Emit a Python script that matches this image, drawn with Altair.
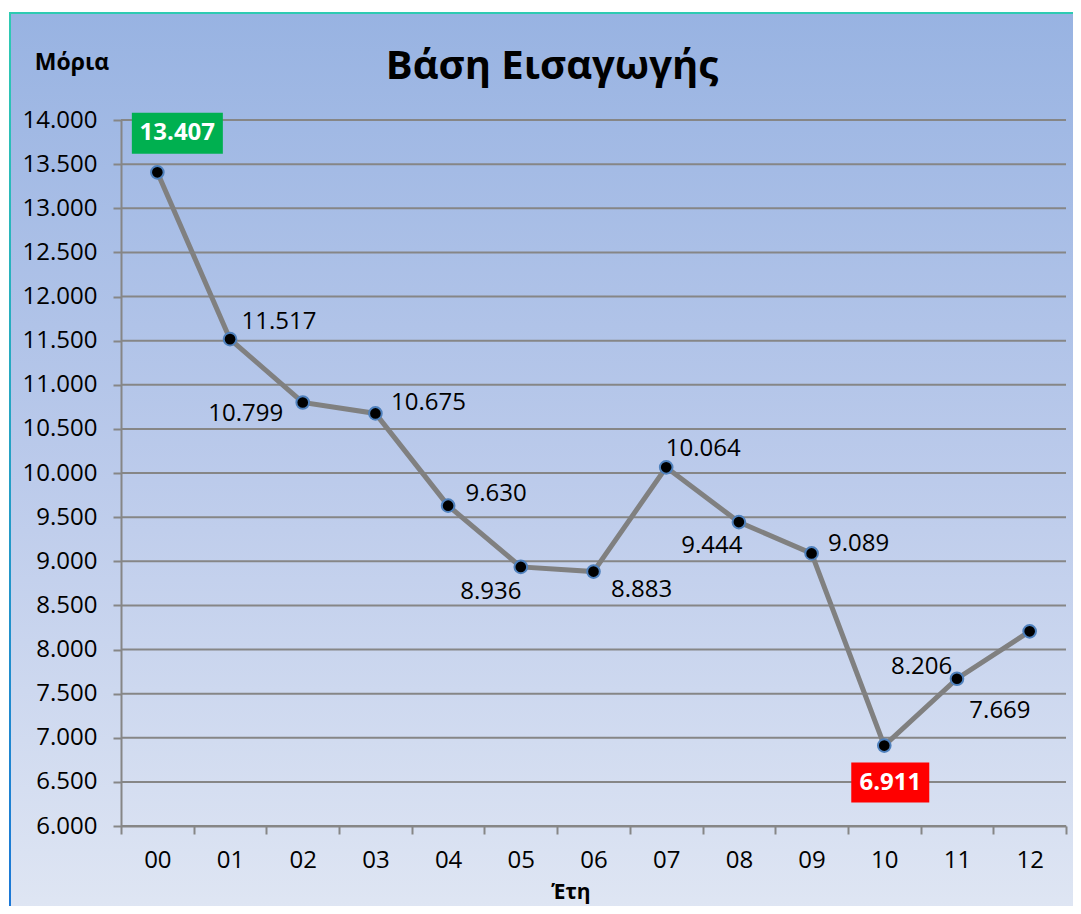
import altair as alt
import pandas as pd

# ---- data ----
years = ["00", "01", "02", "03", "04", "05", "06", "07", "08", "09", "10", "11", "12"]
values = [13407, 11517, 10799, 10675, 9630, 8936, 8883, 10064, 9444, 9089, 6911, 7669, 8206]
y_ticks = list(range(6000, 14001, 500))

# ---- label styling (pixel offsets of each value label from its point) ----
label_dx = [20, 49, -57, 53, 48, -30, 48, 37, -27, 47, 6, 43, -108]
label_dy = [-39, -17, 12, -10, -12, 25, 18, -18, 24, -9, 37, 32, 36]
highlight = {"00": "#00b050", "10": "#ff0000"}

FONT = "Open Sans"
W, H = 945, 706
FS = 24

df = pd.DataFrame({"year": years, "value": values})
df["label"] = [f"{v:,}".replace(",", ".") for v in values]
grid_df = pd.DataFrame({"t": y_ticks})
one = pd.DataFrame({"a": [0]})

xenc = alt.X("year:O", sort=years, title=None,
             scale=alt.Scale(type="band", paddingInner=0, paddingOuter=0),
             axis=alt.Axis(labelAngle=0, tickBand="extent", labelFontSize=FS, labelFont=FONT,
                           labelColor="#000000", labelPadding=14, tickSize=8, tickColor="#868686",
                           domainColor="#868686", domainWidth=2, tickWidth=2, grid=False, zindex=1))
yscale = alt.Scale(domain=[6000, 14000], nice=False, zero=False)
yenc = alt.Y("value:Q", scale=yscale, title=None,
             axis=alt.Axis(values=y_ticks, labelExpr="replace(format(datum.value, ',d'), ',', '.')",
                           labelFontSize=FS, labelFont=FONT, labelColor="#000000", labelPadding=16,
                           tickSize=8, tickColor="#868686", tickWidth=2, domainColor="#868686",
                           domainWidth=2, grid=False, zindex=1))

bg = alt.Chart(one).mark_rect(
    fill={"gradient": "linear", "x1": 0, "y1": 0, "x2": 0, "y2": 1,
          "stops": [{"offset": 0, "color": "#98b3e2"}, {"offset": 0.5, "color": "#bccbeb"},
                    {"offset": 1, "color": "#e2e8f4"}]},
    stroke={"gradient": "linear", "x1": 0, "y1": 0, "x2": 0, "y2": 1,
            "stops": [{"offset": 0, "color": "#2ecab2"}, {"offset": 1, "color": "#1a73d8"}]},
    strokeWidth=2,
).encode(x=alt.value(-111), x2=alt.value(1000), y=alt.value(-107), y2=alt.value(830))

grid = alt.Chart(grid_df).mark_rule(color="#868686", strokeWidth=2).encode(
    y=alt.Y("t:Q", scale=yscale), x=alt.value(0), x2=alt.value(W))

line = alt.Chart(df).mark_line(color="#808080", strokeWidth=5).encode(x=xenc, y=yenc)
pts = alt.Chart(df).mark_point(filled=True, fill="#000000", stroke="#4f81bd", strokeWidth=2,
                               size=160, opacity=1).encode(x=xenc, y=yenc)

layers = [bg, grid, line, pts]

for i, (yr, lab) in enumerate(zip(years, df["label"])):
    sub = alt.Chart(df).transform_filter(alt.datum.year == yr)
    if yr in highlight:
        w = 91 if yr == "00" else 78
        hh = (41 if yr == "00" else 40) / w
        layers.append(sub.mark_point(
            shape=f"M-1,-{hh:.3f}L1,-{hh:.3f}L1,{hh:.3f}L-1,{hh:.3f}Z", size=w * w, filled=True,
            fill=highlight[yr], opacity=1, strokeWidth=0,
            xOffset=label_dx[i], yOffset=label_dy[i]).encode(x=xenc, y=yenc))
        layers.append(sub.mark_text(font=FONT, fontSize=FS, fontWeight="bold", color="white",
                                    dx=label_dx[i], dy=label_dy[i], baseline="middle", align="center")
                      .encode(x=xenc, y=yenc, text="label:N"))
    else:
        layers.append(sub.mark_text(font=FONT, fontSize=FS, color="black",
                                    dx=label_dx[i], dy=label_dy[i], baseline="middle", align="center")
                      .encode(x=xenc, y=yenc, text="label:N"))

title = alt.Chart(one).mark_text(text="Βάση Εισαγωγής", font=FONT, fontSize=40, fontWeight="bold",
                                 color="black", baseline="middle", align="center").encode(
    x=alt.value(431), y=alt.value(-53))
ylab = alt.Chart(one).mark_text(text="Μόρια", font=FONT, fontSize=23, fontWeight="bold",
                                color="black", baseline="middle", align="center").encode(
    x=alt.value(-49), y=alt.value(-57))
xlab = alt.Chart(one).mark_text(text="Έτη", font=FONT, fontSize=21, fontWeight="bold",
                                color="black", baseline="middle", align="center").encode(
    x=alt.value(450), y=alt.value(773))

layers += [title, ylab, xlab]

chart = alt.layer(*layers).properties(
    width=W, height=H,
    autosize=alt.AutoSizeParams(type="none"),
    padding={"left": 113, "top": 112, "right": 7, "bottom": 80},
    background="white",
).configure_view(stroke=None)

chart.save("out.html", embed_options={"renderer": "svg", "actions": False})
